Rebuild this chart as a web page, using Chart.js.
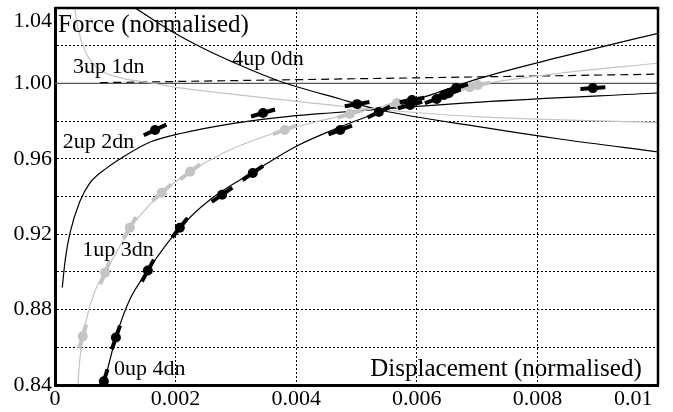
<!DOCTYPE html>
<html>
<head>
<meta charset="utf-8">
<script src="https://cdn.jsdelivr.net/npm/chart.js@4.4.1/dist/chart.umd.min.js"></script>
<style>
  html, body { margin: 0; padding: 0; background: #fff; }
</style>
</head>
<body>
<canvas id="forceChart" width="673" height="412"></canvas>
<script>
// Tick labels
const xTickLabels = ["0", "0.002", "0.004", "0.006", "0.008", "0.01"];
const yTickLabels = ["0.84", "0.88", "0.92", "0.96", "1.00", "1.04"];

// Model curves: [displacement, force]
const curve4up0dn = [[0.00134, 1.0398], [0.00196, 1.0271], [0.00249, 1.0181], [0.00295, 1.0113],
  [0.00368, 1.0017], [0.00473, 0.9917], [0.00539, 0.9859], [0.00705, 0.9769], [0.00837, 0.9705], [0.01, 0.9637]];
const curve3up1dn = [[0.00033, 1.0398], [0.00038, 1.0293], [0.0005, 1.0171], [0.00071, 1.0081],
  [0.00111, 1.0028], [0.00161, 1.0002], [0.00199, 0.998], [0.00249, 0.9959], [0.00352, 0.9922],
  [0.00473, 0.988], [0.00705, 0.9822], [0.01, 0.9793]];
const curve2up2dn = [[0.00012, 0.8917], [0.00017, 0.9065], [0.00025, 0.9208], [0.00041, 0.9372],
  [0.00058, 0.9472], [0.00086, 0.9552], [0.00113, 0.961], [0.00158, 0.9689], [0.00212, 0.9737],
  [0.00279, 0.9779], [0.00362, 0.9816], [0.00456, 0.9843], [0.00705, 0.9901], [0.01, 0.9949]];
const curve1up3dn = [[0.00038, 0.8404], [0.00041, 0.8531], [0.00046, 0.8647], [0.00055, 0.8785],
  [0.00066, 0.8896], [0.00083, 0.9002], [0.001, 0.9092], [0.00124, 0.9229], [0.00151, 0.9335],
  [0.00177, 0.942], [0.00224, 0.9531], [0.00279, 0.9631], [0.00335, 0.9705], [0.00381, 0.9753],
  [0.00439, 0.9801], [0.00481, 0.9832], [0.00567, 0.9896], [0.00688, 0.9986], [0.00837, 1.0054], [0.01, 1.0107]];
const curve0up4dn = [[0.00081, 0.8404], [0.00101, 0.8652], [0.00124, 0.8853], [0.00154, 0.9007],
  [0.00182, 0.9134], [0.00207, 0.9234], [0.00257, 0.9383], [0.00332, 0.9536], [0.00401, 0.9668],
  [0.00473, 0.9769], [0.00539, 0.9848], [0.00622, 0.9938], [0.00705, 1.0028], [0.00837, 1.0139], [0.01, 1.0266]];
const unityLine = [[0, 1.0], [0.01, 1.0]];
const dashedLine = [[0.00075, 1.0004], [0.01, 1.0049]];

// Measured points and their local slope dF/dd
const blackPoints = [[0.00081, 0.842], [0.00101, 0.8652], [0.00154, 0.9007], [0.00207, 0.9234],
  [0.00277, 0.9409], [0.00328, 0.9525], [0.00166, 0.9753], [0.00345, 0.9843], [0.00473, 0.9753],
  [0.00501, 0.989], [0.00537, 0.9848], [0.00592, 0.9912], [0.00589, 0.9885], [0.00633, 0.9917],
  [0.00645, 0.9938], [0.00653, 0.9948], [0.00665, 0.9975], [0.00892, 0.9975]];
const blackSlopes = [105, 93, 58, 40, 22, 22, 15, 9.4, 12, 5.3, 15.5, 6, 8.5, 11, 10, 10, 10, 2.1];
const greyPoints = [[0.00046, 0.8658], [0.00083, 0.8996], [0.00124, 0.9234], [0.00177, 0.942],
  [0.00224, 0.9531], [0.00381, 0.9753], [0.00489, 0.9838], [0.00567, 0.9896], [0.00688, 0.998], [0.00701, 0.9991]];
const greySlopes = [110, 77, 56, 28, 24, 11.5, 9.6, 9.6, 6.4, 6.4];

// Text placed in data coordinates
const plotTexts = [
  { text: "Force (normalised)", x: 0.00005, y: 1.0271, size: 25 },
  { text: "Displacement (normalised)", x: 0.00973, y: 0.8446, size: 25, align: "right" },
  { text: "3up 1dn", x: 0.0003, y: 1.0054, size: 22 },
  { text: "4up 0dn", x: 0.00294, y: 1.0097, size: 22 },
  { text: "2up 2dn", x: 0.00013, y: 0.9658, size: 22 },
  { text: "1up 3dn", x: 0.00045, y: 0.9086, size: 22 },
  { text: "0up 4dn", x: 0.00098, y: 0.8451, size: 22 },
];

const FONT = "'Liberation Serif', 'Times New Roman', serif";
const GREY = "#c4c4c4";
Chart.defaults.font.family = FONT;
Chart.defaults.color = "#000";

const toXY = (arr) => arr.map(([x, y]) => ({ x, y }));

// rotation of the slope bar, worked out through the scales
function barAngle(slopes) {
  return (ctx) => {
    const p = ctx.raw;
    if (!p) return 0;
    const sx = ctx.chart.scales.x;
    const sy = ctx.chart.scales.y;
    const h = 0.0002;
    const dx = sx.getPixelForValue(p.x + h) - sx.getPixelForValue(p.x);
    const dy = sy.getPixelForValue(p.y + slopes[ctx.dataIndex] * h) - sy.getPixelForValue(p.y);
    return (Math.atan2(dy, dx) * 180) / Math.PI;
  };
}

function curve(data, color, order, dash) {
  return {
    data: toXY(data),
    showLine: true,
    borderColor: color,
    borderWidth: 1.2,
    borderDash: dash || [],
    pointRadius: 0,
    cubicInterpolationMode: "monotone",
    order: order,
  };
}

function dots(data, color, order) {
  return {
    data: toXY(data),
    pointStyle: "circle",
    pointRadius: 5,
    pointBackgroundColor: color,
    pointBorderWidth: 0,
    order: order,
  };
}

function bars(data, slopes, color, order) {
  return {
    data: toXY(data),
    pointStyle: "line",
    pointRadius: 12.5,
    pointBorderColor: color,
    pointBorderWidth: 4,
    pointRotation: barAngle(slopes),
    order: order,
  };
}

const frameAndText = {
  id: "frameAndText",
  afterDraw(chart) {
    const { ctx, chartArea: a } = chart;
    const { x, y } = chart.scales;
    ctx.save();
    ctx.strokeStyle = "#000";
    ctx.lineWidth = 2.5;
    ctx.beginPath();
    ctx.moveTo(a.left, a.top);
    ctx.lineTo(a.right, a.top);
    ctx.lineTo(a.right, a.bottom);
    ctx.stroke();
    ctx.fillStyle = "#000";
    ctx.textBaseline = "alphabetic";
    plotTexts.forEach((t) => {
      ctx.font = t.size + "px " + FONT;
      ctx.textAlign = t.align || "left";
      ctx.fillText(t.text, x.getPixelForValue(t.x), y.getPixelForValue(t.y));
    });
    ctx.restore();
  },
};

new Chart(document.getElementById("forceChart"), {
  type: "scatter",
  data: {
    datasets: [
      dots(blackPoints, "#000", 0),
      bars(blackPoints, blackSlopes, "#000", 1),
      dots(greyPoints, GREY, 2),
      bars(greyPoints, greySlopes, GREY, 3),
      curve(curve0up4dn, "#000", 4),
      curve(curve1up3dn, GREY, 5),
      curve(curve2up2dn, "#000", 6),
      curve(curve3up1dn, GREY, 7),
      curve(curve4up0dn, "#000", 8),
      curve(dashedLine, "#000", 9, [8, 5]),
      curve(unityLine, "#555", 10),
    ],
  },
  options: {
    responsive: false,
    devicePixelRatio: 1,
    animation: false,
    events: [],
    layout: { autoPadding: false, padding: { top: 8, right: 15, left: 0, bottom: 0 } },
    plugins: { legend: { display: false }, tooltip: { enabled: false } },
    scales: {
      x: {
        type: "linear",
        min: 0,
        max: 0.01,
        afterBuildTicks: (scale) => {
          scale.ticks = xTickLabels.map((v) => ({ value: parseFloat(v) }));
        },
        afterFit: (scale) => {
          scale.height = 27;
          scale.paddingLeft = 0;
          scale.paddingRight = 0;
        },
        ticks: {
          autoSkip: false,
          maxRotation: 0,
          padding: 1,
          font: { size: 22 },
          color: "#000",
          callback: (value, i) => {
            const label = xTickLabels[i];
            // keep the last label inside the picture
            return i === xTickLabels.length - 1 ? label + "\u00a0".repeat(9) : label;
          },
        },
        grid: { color: "#000", lineWidth: 1, drawTicks: false },
        border: { color: "#000", width: 3, dash: [2, 2] },
      },
      y: {
        type: "linear",
        min: 0.84,
        max: 1.04,
        afterBuildTicks: (scale) => {
          const ticks = [];
          for (let i = 0; i <= 10; i++) ticks.push({ value: +(0.84 + i * 0.02).toFixed(2) });
          scale.ticks = ticks;
        },
        afterFit: (scale) => {
          scale.width = 55;
          scale.paddingTop = 0;
          scale.paddingBottom = 0;
        },
        ticks: {
          autoSkip: false,
          padding: 3,
          font: { size: 22 },
          color: "#000",
          callback: (value) => {
            const label = yTickLabels.find((l) => Math.abs(parseFloat(l) - value) < 1e-6);
            if (!label) return "";
            // top label sits just below the frame
            return label === "1.04" ? ["", label] : label;
          },
        },
        grid: { color: "#000", lineWidth: 1, drawTicks: false },
        border: { color: "#000", width: 3, dash: [2, 2] },
      },
    },
  },
  plugins: [frameAndText],
});
</script>
</body>
</html>
